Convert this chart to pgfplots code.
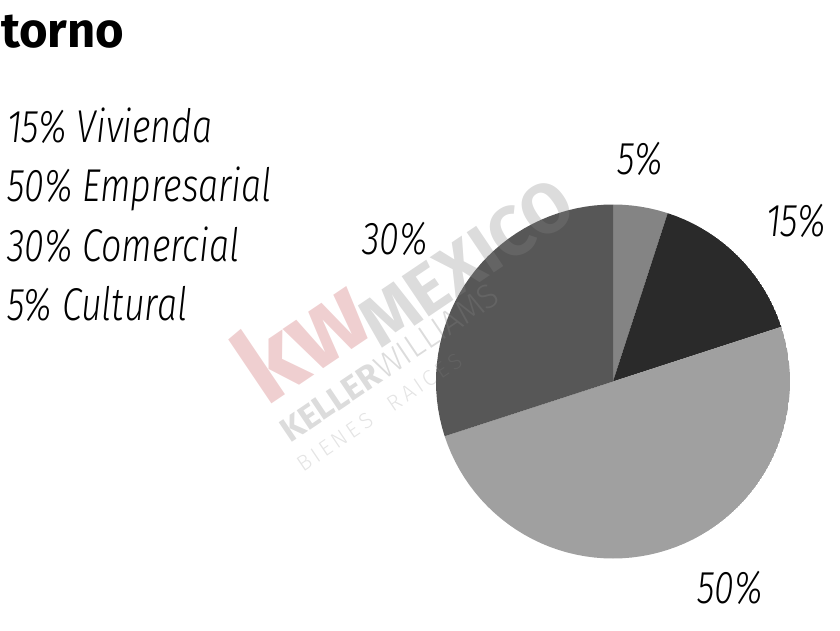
\documentclass[border=0pt]{standalone}
\usepackage{pgfplots}
\pgfplotsset{compat=1.18}
\usepgfplotslibrary{polar}
\usepackage{fontspec}
\setmainfont{Fira Sans}
\newfontfamily\lab[FakeStretch=0.78]{Fira Sans Light Italic}
\newfontfamily\wmthin{Fira Sans Light}
\definecolor{cCult}{HTML}{848484}
\definecolor{cViv}{HTML}{2A2A2A}
\definecolor{cEmp}{HTML}{A0A0A0}
\definecolor{cCom}{HTML}{575757}
\definecolor{wmPink}{HTML}{EFCFD0}
\definecolor{wmGray}{HTML}{858585}
\begin{document}
\begin{tikzpicture}[x=1pt,y=1pt]
\path[use as bounding box] (0,0) rectangle (840,630);
% title fragment
\node[anchor=base west, inner sep=0pt, font=\fontsize{49}{55}\selectfont\bfseries] at (1,582) {torno};
% legend text
\begin{scope}[every node/.style={anchor=base west, inner sep=0pt, font=\lab\fontsize{46}{58}\selectfont}]
\node at (7,487) {15\% Vivienda};
\node at (7,428) {50\% Empresarial};
\node at (7,368) {30\% Comercial};
\node at (7,310) {5\% Cultural};
\end{scope}
\begin{polaraxis}[at={(613pt,248.5pt)}, anchor=center, hide axis,
  scale only axis, width=354pt, height=354pt, ymin=0, ymax=1]
% Cultural 5%
\addplot[fill=cCult, draw=none] coordinates {(0,0) (90,1) (87,1) (84,1) (81,1) (78,1) (75,1) (72,1)} -- cycle;
% Vivienda 15%
\addplot[fill=cViv, draw=none] coordinates {(0,0) (72,1) (69,1) (66,1) (63,1) (60,1) (57,1) (54,1) (51,1) (48,1) (45,1) (42,1) (39,1) (36,1) (33,1) (30,1) (27,1) (24,1) (21,1) (18,1)} -- cycle;
% Empresarial 50%
\addplot[fill=cEmp, draw=none] coordinates {(0,0) (18,1) (15,1) (12,1) (9,1) (6,1) (3,1) (0,1) (-3,1) (-6,1) (-9,1) (-12,1) (-15,1) (-18,1) (-21,1) (-24,1) (-27,1) (-30,1) (-33,1) (-36,1) (-39,1) (-42,1) (-45,1) (-48,1) (-51,1) (-54,1) (-57,1) (-60,1) (-63,1) (-66,1) (-69,1) (-72,1) (-75,1) (-78,1) (-81,1) (-84,1) (-87,1) (-90,1) (-93,1) (-96,1) (-99,1) (-102,1) (-105,1) (-108,1) (-111,1) (-114,1) (-117,1) (-120,1) (-123,1) (-126,1) (-129,1) (-132,1) (-135,1) (-138,1) (-141,1) (-144,1) (-147,1) (-150,1) (-153,1) (-156,1) (-159,1) (-162,1)} -- cycle;
% Comercial 30%
\addplot[fill=cCom, draw=none] coordinates {(0,0) (-162,1) (-165,1) (-168,1) (-171,1) (-174,1) (-177,1) (-180,1) (-183,1) (-186,1) (-189,1) (-192,1) (-195,1) (-198,1) (-201,1) (-204,1) (-207,1) (-210,1) (-213,1) (-216,1) (-219,1) (-222,1) (-225,1) (-228,1) (-231,1) (-234,1) (-237,1) (-240,1) (-243,1) (-246,1) (-249,1) (-252,1) (-255,1) (-258,1) (-261,1) (-264,1) (-267,1) (-270,1)} -- cycle;
\end{polaraxis}
% watermark (semi-transparent, over the pie)
\begin{scope}[every node/.style={inner sep=0pt, anchor=base west}]
\node[rotate=34, text=wmPink, font=\fontsize{104}{104}\selectfont\bfseries] at (266,222) {kw};
\node[rotate=34, text=wmGray, text opacity=0.29, font=\fontsize{70}{70}\selectfont\bfseries] at (380,280) {MEXICO};
\node[rotate=34, text=wmGray, text opacity=0.29, font=\fontsize{34}{34}\selectfont] at (290,186) {\textbf{KELLER}\wmthin WILLIAMS};
\node[rotate=34, text=wmGray, text opacity=0.22, font=\wmthin\fontsize{22}{22}\selectfont] at (303,157) {B\,I\,E\,N\,E\,S\quad R\,A\,I\,C\,E\,S};
\end{scope}
% slice labels
\begin{scope}[every node/.style={anchor=base, inner sep=0pt, font=\lab\fontsize{46}{58}\selectfont}]
\node at (640,455) {5\%};
\node at (796,393) {15\%};
\node at (395,375) {30\%};
\node at (730,27) {50\%};
\end{scope}
\end{tikzpicture}
\end{document}
